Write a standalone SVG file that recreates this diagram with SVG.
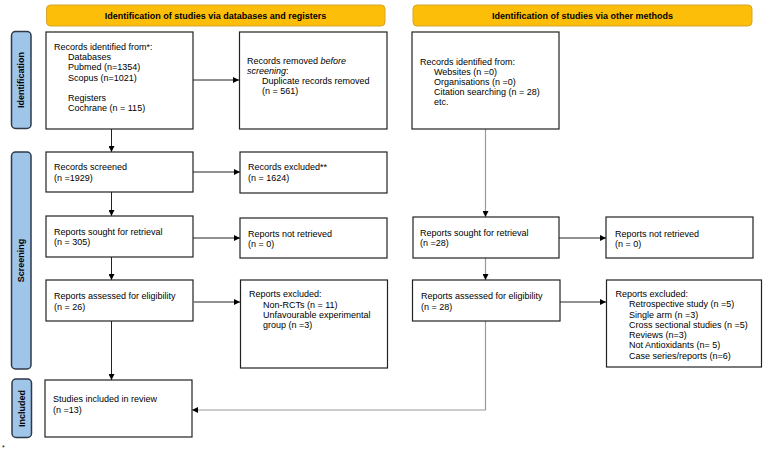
<svg xmlns="http://www.w3.org/2000/svg" width="764" height="451" viewBox="0 0 764 451">
<style>
text{font-family:"Liberation Sans",Arial,sans-serif;font-size:9px;fill:#000}
.hd{fill:#fdbe0a;stroke:#d4a52a;stroke-width:1}
.hdt{font-weight:bold;text-anchor:middle}
.side{fill:#9fc5e8;stroke:#2e3a4a;stroke-width:1.5}
.sidet{font-weight:bold;text-anchor:middle}
.box{fill:#fff;stroke:#222;stroke-width:1.2}
.ln{fill:none;stroke:#222;stroke-width:1}
.lg{fill:none;stroke:#999;stroke-width:1.2}
</style>
<defs>
<marker id="ah" markerUnits="userSpaceOnUse" markerWidth="7" markerHeight="6" refX="6" refY="3" orient="auto">
<path d="M0,0 L6,3 L0,6 z" fill="#000"/>
</marker>
</defs>
<rect width="764" height="451" fill="#fff"/>

<g id="header-left"><rect class="hd" x="46.5" y="5" width="338.5" height="21" rx="4"/><text class="hdt" x="215.5" y="18.8">Identification of studies via databases and registers</text></g>
<g id="header-right"><rect class="hd" x="413" y="5" width="339" height="21" rx="4"/><text class="hdt" x="582.5" y="18.8">Identification of studies via other methods</text></g>

<g id="side-identification"><rect class="side" x="11.5" y="31.5" width="19.5" height="97" rx="4"/><text class="sidet" transform="translate(24.3,80) rotate(-90)">Identification</text></g>
<g id="side-screening"><rect class="side" x="11.5" y="152" width="19.5" height="217" rx="4"/><text class="sidet" transform="translate(24.3,260.5) rotate(-90)">Screening</text></g>
<g id="side-included"><rect class="side" x="12" y="379" width="19.5" height="58.5" rx="4"/><text class="sidet" transform="translate(24.8,408.5) rotate(-90)">Included</text></g>

<g id="connectors">
<line class="ln" x1="193" y1="80" x2="239" y2="80" marker-end="url(#ah)"/>
<line class="ln" x1="111.5" y1="129" x2="111.5" y2="152" marker-end="url(#ah)"/>
<line class="ln" x1="193" y1="172" x2="240" y2="172" marker-end="url(#ah)"/>
<line class="ln" x1="111.5" y1="192" x2="111.5" y2="216" marker-end="url(#ah)"/>
<line class="ln" x1="193" y1="238" x2="240" y2="238" marker-end="url(#ah)"/>
<line class="ln" x1="111.5" y1="257" x2="111.5" y2="280" marker-end="url(#ah)"/>
<line class="ln" x1="194" y1="302" x2="240" y2="302" marker-end="url(#ah)"/>
<line class="ln" x1="111.5" y1="321" x2="111.5" y2="380" marker-end="url(#ah)"/>
<line class="lg" x1="485.5" y1="129" x2="485.5" y2="217" marker-end="url(#ah)"/>
<line class="ln" x1="559" y1="238" x2="606" y2="238" marker-end="url(#ah)"/>
<line class="lg" x1="485.5" y1="258" x2="485.5" y2="280" marker-end="url(#ah)"/>
<line class="ln" x1="560" y1="302" x2="606" y2="302" marker-end="url(#ah)"/>
<polyline class="lg" points="485.5,321 485.5,410 192,410" marker-end="url(#ah)"/>
</g>

<g id="records-identified-db"><rect class="box" x="46" y="32" width="147" height="97"/>
<text x="54" y="50">Records identified from*:</text>
<text x="68" y="60.2">Databases</text>
<text x="68" y="70.4">Pubmed (n=1354)</text>
<text x="68" y="80.6">Scopus (n=1021)</text>
<text x="68" y="101">Registers</text>
<text x="68" y="111.2">Cochrane (n = 115)</text></g>

<g id="records-removed"><rect class="box" x="239.5" y="32" width="147.5" height="97"/>
<text x="247" y="63.5">Records removed <tspan font-style="italic">before</tspan></text>
<text x="247" y="73.7"><tspan font-style="italic">screening</tspan>:</text>
<text x="262" y="84">Duplicate records removed</text>
<text x="262" y="94.2">(n = 561)</text></g>

<g id="records-identified-other"><rect class="box" x="412" y="32" width="147" height="97"/>
<text x="420" y="64.5">Records identified from:</text>
<text x="434" y="74.7">Websites (n =0)</text>
<text x="434" y="84.9">Organisations (n =0)</text>
<text x="434" y="95.1">Citation searching (n = 28)</text>
<text x="434" y="105.3">etc.</text></g>

<g id="records-screened"><rect class="box" x="46" y="152" width="147" height="40"/>
<text x="54" y="170">Records screened</text>
<text x="54" y="181">(n =1929)</text></g>

<g id="records-excluded"><rect class="box" x="240" y="152" width="147" height="41"/>
<text x="248" y="170">Records excluded**</text>
<text x="248" y="181">(n = 1624)</text></g>

<g id="reports-sought-db"><rect class="box" x="46" y="216" width="147" height="41"/>
<text x="54" y="234.5">Reports sought for retrieval</text>
<text x="54" y="245">(n = 305)</text></g>

<g id="reports-not-retrieved-db"><rect class="box" x="240" y="218" width="147" height="40"/>
<text x="248" y="236.5">Reports not retrieved</text>
<text x="248" y="247">(n = 0)</text></g>

<g id="reports-assessed-db"><rect class="box" x="46" y="280" width="147" height="41"/>
<text x="54" y="299">Reports assessed for eligibility</text>
<text x="54" y="309.5">(n = 26)</text></g>

<g id="reports-excluded-db"><rect class="box" x="240.5" y="280" width="147" height="88"/>
<text x="249" y="297.3">Reports excluded:</text>
<text x="263" y="307.5">Non-RCTs (n = 11)</text>
<text x="263" y="317.8">Unfavourable experimental</text>
<text x="263" y="328">group (n =3)</text></g>

<g id="studies-included"><rect class="box" x="45" y="380" width="147" height="57"/>
<text x="53" y="402">Studies included in review</text>
<text x="53" y="412.5">(n =13)</text></g>

<g id="reports-sought-other"><rect class="box" x="413" y="217" width="146" height="41"/>
<text x="420" y="235.5">Reports sought for retrieval</text>
<text x="420" y="246">(n =28)</text></g>

<g id="reports-not-retrieved-other"><rect class="box" x="606" y="217" width="147" height="41"/>
<text x="615" y="236.5">Reports not retrieved</text>
<text x="615" y="247">(n = 0)</text></g>

<g id="reports-assessed-other"><rect class="box" x="412.5" y="280" width="147.5" height="41"/>
<text x="421" y="299">Reports assessed for eligibility</text>
<text x="421" y="309.5">(n = 28)</text></g>

<g id="reports-excluded-other"><rect class="box" x="606.5" y="280" width="155" height="87"/>
<text x="615.5" y="297">Reports excluded:</text>
<text x="629" y="307.3">Retrospective study (n =5)</text>
<text x="629" y="317.5">Single arm (n =3)</text>
<text x="629" y="327.7">Cross sectional studies (n =5)</text>
<text x="629" y="338">Reviews (n=3)</text>
<text x="629" y="348.2">Not Antioxidants (n= 5)</text>
<text x="629" y="358.5">Case series/reports (n=6)</text></g>

<text x="2" y="450" style="font-size:7px">*</text>
</svg>
